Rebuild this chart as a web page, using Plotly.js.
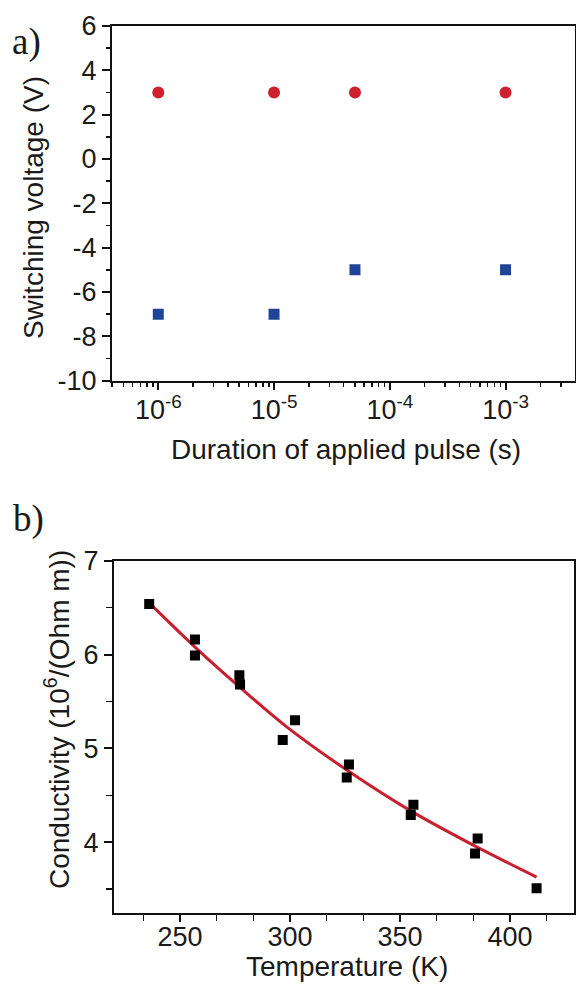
<!DOCTYPE html>
<html>
<head>
<meta charset="utf-8">
<script src="https://cdn.plot.ly/plotly-3.0.1.min.js"></script>
<style>
  html, body { margin: 0; padding: 0; background: #fff; overflow: hidden; }
  #chart { width: 576px; height: 988px; }
</style>
</head>
<body>
<div id="chart"></div>
<script>
// ---- Panel a) data ----
const pulseDuration = [1e-6, 1e-5, 5e-5, 1e-3];
const setVoltage = [3, 3, 3, 3];
const resetVoltage = [-7, -7, -5, -5];
const xTickValsA = [1e-6, 1e-5, 1e-4, 1e-3];
const xTickTextA = ['10<sup>-6</sup>', '10<sup>-5</sup>', '10<sup>-4</sup>', '10<sup>-3</sup>'];
const yTickValsA = [-10, -8, -6, -4, -2, 0, 2, 4, 6];
const yTickTextA = ['-10', '-8', '-6', '-4', '-2', '0', '2', '4', '6'];

// ---- Panel b) data ----
const temperatureK = [236.0, 256.8, 256.8, 277.0, 277.3, 296.7, 302.3, 325.8, 326.8, 354.9, 356.1, 384.1, 385.3, 412.1];
const conductivity = [6.54, 6.16, 5.99, 5.78, 5.68, 5.09, 5.30, 4.69, 4.83, 4.29, 4.40, 3.88, 4.04, 3.51];
const fitTemperature = [236.0, 256.8, 277.3, 298.5, 325.8, 354.5, 383.3, 412.1];
const fitConductivity = [6.55, 6.08, 5.65, 5.23, 4.77, 4.34, 3.97, 3.63];
const xTickValsB = [250, 300, 350, 400];
const xTickTextB = ['250', '300', '350', '400'];
const yTickValsB = [4, 5, 6, 7];
const yTickTextB = ['4', '5', '6', '7'];

const W = 576, H = 988;
const px = x => x / W;
const py = y => 1 - y / H;

const sans = '"Liberation Sans", Arial, sans-serif';
const tickFont = { family: sans, size: 27, color: '#1a1a1a' };
const titleFont = { family: sans, size: 28, color: '#1a1a1a' };
const labelFont = { family: '"Liberation Serif", "Times New Roman", serif', size: 37, color: '#1a1a1a' };

const axisCommon = {
  showline: true, linewidth: 2, linecolor: '#111', mirror: true,
  showgrid: false, zeroline: false,
  ticks: 'outside', tickwidth: 2, tickcolor: '#111',
  tickfont: tickFont, tickmode: 'array'
};

const traces = [
  { x: pulseDuration, y: setVoltage, type: 'scatter', mode: 'markers', xaxis: 'x', yaxis: 'y',
    marker: { symbol: 'circle', size: 12, color: '#cf2030' } },
  { x: pulseDuration, y: resetVoltage, type: 'scatter', mode: 'markers', xaxis: 'x', yaxis: 'y',
    marker: { symbol: 'square', size: 11, color: '#1f4597' } },
  { x: fitTemperature, y: fitConductivity, type: 'scatter', mode: 'lines', xaxis: 'x2', yaxis: 'y2',
    line: { color: '#c8202f', width: 3, shape: 'spline', smoothing: 1 } },
  { x: temperatureK, y: conductivity, type: 'scatter', mode: 'markers', xaxis: 'x2', yaxis: 'y2',
    marker: { symbol: 'square', size: 10, color: '#000' } }
];

const layout = {
  width: W, height: H,
  margin: { l: 0, r: 0, t: 0, b: 0 },
  paper_bgcolor: '#fff', plot_bgcolor: '#fff',
  showlegend: false,
  xaxis: Object.assign({}, axisCommon, {
    type: 'log', domain: [px(112), px(575)], range: [-6.4, -2.4], anchor: 'y',
    ticklen: 7, tickvals: xTickValsA, ticktext: xTickTextA, ticklabelstandoff: -3,
    minor: { tickmode: 'linear', dtick: 'D1', ticks: 'outside', ticklen: 4, tickwidth: 1.5, tickcolor: '#111' }
  }),
  yaxis: Object.assign({}, axisCommon, {
    domain: [py(380.7), py(26)], range: [-10, 6], anchor: 'x',
    ticklen: 8, tickvals: yTickValsA, ticktext: yTickTextA,
    minor: { tickmode: 'linear', tick0: 0, dtick: 1, ticks: 'outside', ticklen: 4, tickwidth: 1.5, tickcolor: '#111' }
  }),
  xaxis2: Object.assign({}, axisCommon, {
    domain: [px(114), px(574)], range: [220, 429.1], anchor: 'y2',
    ticklen: 7, tickvals: xTickValsB, ticktext: xTickTextB, ticklabelstandoff: -8,
    minor: { tickmode: 'linear', tick0: 250, dtick: 50 / 3, ticks: 'outside', ticklen: 6, tickwidth: 1.5, tickcolor: '#111' }
  }),
  yaxis2: Object.assign({}, axisCommon, {
    domain: [py(912.7), py(560.7)], range: [3.25, 7], anchor: 'x2',
    ticklen: 8, tickvals: yTickValsB, ticktext: yTickTextB,
    minor: { tickmode: 'linear', tick0: 0, dtick: 0.5, ticks: 'outside', ticklen: 6, tickwidth: 1.5, tickcolor: '#111' }
  }),
  annotations: [
    { text: 'a)', xref: 'paper', yref: 'paper', x: px(10), y: py(42), xanchor: 'left', yanchor: 'middle', showarrow: false, font: labelFont },
    { text: 'b)', xref: 'paper', yref: 'paper', x: px(11), y: py(519), xanchor: 'left', yanchor: 'middle', showarrow: false, font: labelFont },
    { text: 'Duration of applied pulse (s)', xref: 'paper', yref: 'paper', x: px(346), y: py(449), xanchor: 'center', yanchor: 'middle', showarrow: false, font: titleFont },
    { text: 'Switching voltage (V)', xref: 'paper', yref: 'paper', x: px(33), y: py(208), xanchor: 'center', yanchor: 'middle', textangle: -90, showarrow: false, font: titleFont },
    { text: 'Temperature (K)', xref: 'paper', yref: 'paper', x: px(347), y: py(966), xanchor: 'center', yanchor: 'middle', showarrow: false, font: titleFont },
    { text: 'Conductivity (10<sup>6</sup>/(Ohm m))', xref: 'paper', yref: 'paper', x: px(57), y: py(720), xanchor: 'center', yanchor: 'middle', textangle: -90, showarrow: false, font: titleFont }
  ]
};

Plotly.newPlot('chart', traces, layout, { staticPlot: true, displayModeBar: false });
</script>
</body>
</html>
